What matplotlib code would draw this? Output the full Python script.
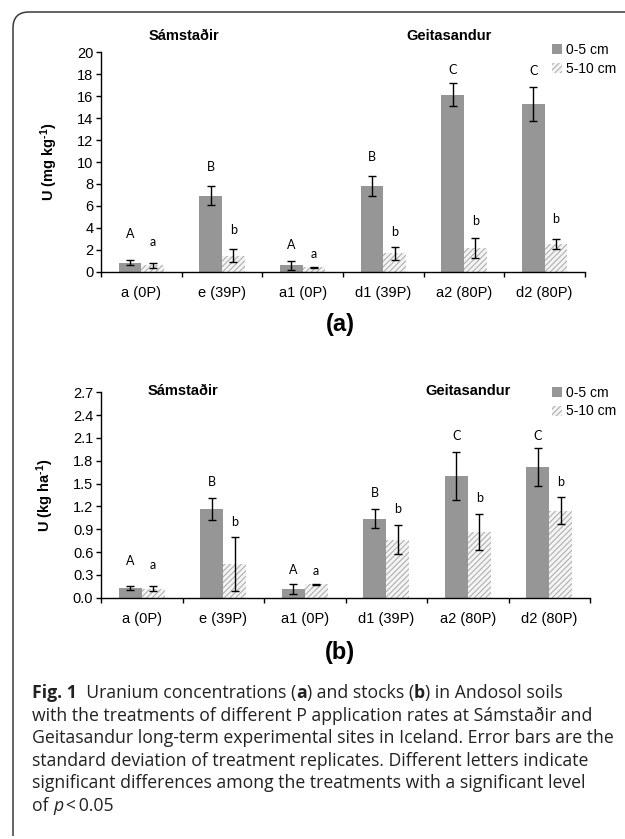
import numpy as np
import matplotlib
matplotlib.use("Agg")
import matplotlib.pyplot as plt
from matplotlib.path import Path
from matplotlib.patches import PathPatch, Patch
from matplotlib.ticker import FormatStrFormatter

plt.rcParams['font.family'] = ['Liberation Sans', 'DejaVu Sans']
plt.rcParams['mathtext.fontset'] = 'custom'
plt.rcParams['mathtext.bf'] = 'Liberation Sans:bold'
plt.rcParams['mathtext.rm'] = 'Liberation Sans:bold'
plt.rcParams['mathtext.default'] = 'bf'
plt.rcParams['hatch.linewidth'] = 0.7

# ---- data ----
treatments = ["a (0P)", "e (39P)", "a1 (0P)", "d1 (39P)", "a2 (80P)", "d2 (80P)"]
depths = ["0-5 cm", "5-10 cm"]
sites = ["Sámstaðir", "Geitasandur"]

conc_top = [0.82, 6.92, 0.57, 7.82, 16.13, 15.26]
conc_top_sd = [0.23, 0.85, 0.38, 0.88, 1.05, 1.56]
conc_sub = [0.57, 1.45, 0.39, 1.66, 2.18, 2.54]
conc_sub_sd = [0.2, 0.6, 0.06, 0.58, 0.92, 0.43]
conc_letters_top = ["A", "B", "A", "B", "C", "C"]
conc_letters_sub = ["a", "b", "a", "b", "b", "b"]
conc_letter_y_top = [3.47, 9.52, 2.42, 10.48, 18.4, 18.34]
conc_letter_y_sub = [2.69, 3.84, 1.63, 3.6, 4.59, 4.8]
conc_ticks = np.arange(0, 21, 2)

stock_top = [0.125, 1.17, 0.113, 1.039, 1.6, 1.717]
stock_top_sd = [0.03, 0.144, 0.07, 0.128, 0.32, 0.252]
stock_sub = [0.12, 0.448, 0.174, 0.765, 0.865, 1.143]
stock_sub_sd = [0.03, 0.354, 0.004, 0.196, 0.24, 0.18]
stock_letters_top = ["A", "B", "A", "B", "C", "C"]
stock_letters_sub = ["a", "b", "a", "b", "b", "b"]
stock_letter_y_top = [0.478, 1.526, 0.37, 1.38, 2.126, 2.126]
stock_letter_y_sub = [0.426, 1.0, 0.352, 1.17, 1.317, 1.517]
stock_ticks = np.round(np.arange(0, 2.71, 0.3), 1)

solid_color = "#969696"
hatch_face = "#f4f4f4"
hatch_color = "#a8a8a8"

W, H = 625, 839
fig = plt.figure(figsize=(W / 100, H / 100), dpi=100)


def px_rect(x0, x1, ytop, ybot):
    return [x0 / W, 1 - ybot / H, (x1 - x0) / W, (ybot - ytop) / H]


def panel(rect, top, top_sd, sub, sub_sd, lt, ls, lyt, lys, yticks, fmt, ylabel,
          site_pos, legend_y, tag, tag_y):
    ax = fig.add_axes(rect)
    x = np.arange(len(treatments))
    w = 0.28
    ax.bar(x - w / 2, top, w, color=solid_color, linewidth=0)
    ax.bar(x + w / 2, sub, w, color=hatch_face, edgecolor=hatch_color,
           hatch="//////", linewidth=0)
    ax.errorbar(x - w / 2, top, yerr=top_sd, fmt="none", ecolor="black",
                elinewidth=1, capsize=2.6, capthick=1)
    ax.errorbar(x + w / 2, sub, yerr=sub_sd, fmt="none", ecolor="black",
                elinewidth=1, capsize=2.6, capthick=1)
    for i in range(len(x)):
        ax.text(x[i] - w / 2, lyt[i], lt[i], ha="center", va="center",
                fontsize=9, family="Lato")
        ax.text(x[i] + w / 2, lys[i], ls[i], ha="center", va="center",
                fontsize=9, family="Lato")

    ax.set_xlim(-0.5, len(x) - 0.5)
    ax.set_ylim(yticks[0], yticks[-1])
    ax.set_yticks(yticks)
    ax.yaxis.set_major_formatter(FormatStrFormatter(fmt))
    ax.set_xticks(np.arange(-0.5, len(x)), [])
    ax.set_xticks(x, treatments, minor=True)
    ax.tick_params(axis="x", which="major", direction="out", length=3.5, width=1)
    ax.tick_params(axis="x", which="minor", length=0, pad=10, labelsize=10.5)
    ax.tick_params(axis="y", direction="out", length=3.5, width=1, labelsize=10.5, pad=2)
    for s in ["top", "right"]:
        ax.spines[s].set_visible(False)
    for s in ["left", "bottom"]:
        ax.spines[s].set_linewidth(1)
    ax.set_ylabel(ylabel, fontsize=10.5, fontweight="bold", labelpad=12)

    sy = site_pos[2]
    ax.text(site_pos[0], sy, sites[0], ha="center", va="center", fontsize=10.5,
            fontweight="bold", clip_on=False)
    ax.text(site_pos[1], sy, sites[1], ha="center", va="center", fontsize=10.5,
            fontweight="bold", clip_on=False)

    handles = [Patch(facecolor=solid_color, linewidth=0),
               Patch(facecolor=hatch_face, edgecolor=hatch_color, hatch="//////", linewidth=0)]
    fig.legend(handles, depths, loc="center left", bbox_to_anchor=(552 / W, 1 - legend_y / H),
               frameon=False, fontsize=10, handlelength=0.75, handleheight=0.75,
               handletextpad=0.25, labelspacing=0.35, borderaxespad=0, borderpad=0)
    fig.text(340 / W, 1 - tag_y / H, tag, ha="center", va="center", fontsize=17,
             fontweight="bold")
    return ax


panel(px_rect(101, 585, 52.3, 271.7), conc_top, conc_top_sd, conc_sub, conc_sub_sd,
      conc_letters_top, conc_letters_sub, conc_letter_y_top, conc_letter_y_sub,
      conc_ticks, "%d", r"U (mg kg$^{\text{-1}}$)", (0.53, 3.82, 21.5), 59.5, "(a)", 325)

panel(px_rect(101, 590, 392.3, 597.7), stock_top, stock_top_sd, stock_sub, stock_sub_sd,
      stock_letters_top, stock_letters_sub, stock_letter_y_top, stock_letter_y_sub,
      stock_ticks, "%.1f", r"U (kg ha$^{\text{-1}}$)", (0.5, 4.0, 2.72), 402, "(b)", 653)

# frame with rounded top-left corner
r = 16
x0, y0 = 13, 12
verts = [(x0, 836), (x0, y0 + r), (x0, y0), (x0 + r, y0), (W, y0)]
codes = [Path.MOVETO, Path.LINETO, Path.CURVE3, Path.CURVE3, Path.LINETO]
verts = [(vx / W, 1 - vy / H) for vx, vy in verts]
fig.patches.append(PathPatch(Path(verts, codes), transform=fig.transFigure,
                             facecolor="none", edgecolor="#3a3a3a", linewidth=1.1))

# caption
cap_font = ["Open Sans", "DejaVu Sans"]
cap_size = 12.7
caption = [
    [("Fig. 1", "bold", "normal"), ("  Uranium concentrations (", "normal", "normal"),
     ("a", "bold", "normal"), (") and stocks (", "normal", "normal"),
     ("b", "bold", "normal"), (") in Andosol soils", "normal", "normal")],
    [("with the treatments of different P application rates at Sámstaðir and", "normal", "normal")],
    [("Geitasandur long-term experimental sites in Iceland. Error bars are the", "normal", "normal")],
    [("standard deviation of treatment replicates. Different letters indicate", "normal", "normal")],
    [("significant differences among the treatments with a significant level", "normal", "normal")],
    [("of ", "normal", "normal"), ("p", "normal", "italic"), ("\u2009<\u20090.05", "normal", "normal")],
]
renderer = fig.canvas.get_renderer()
line_y = [693.3, 715.8, 738.3, 760.8, 783.3, 805.8]
for segs, ly in zip(caption, line_y):
    cx = 32
    for txt, wt, st in segs:
        t = fig.text(cx / W, 1 - ly / H, txt, ha="left", va="center", family=cap_font,
                     fontsize=cap_size, fontweight=wt, style=st, color="#222222")
        cx += t.get_window_extent(renderer).width

fig.savefig("out.png", dpi=100)
